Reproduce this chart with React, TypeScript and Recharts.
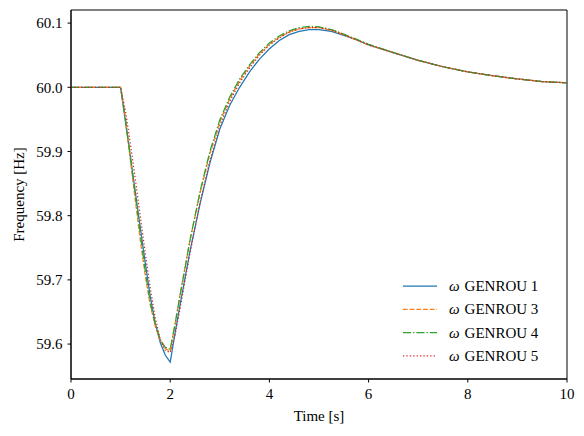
import React from 'react';
import { LineChart, Line, XAxis, YAxis, ReferenceArea, Label } from 'recharts';

// ============================================================================
// --- DATA ---
// ============================================================================

// Simulation time [s]
const time = [
  0, 1, 1.1, 1.2, 1.3, 1.4, 1.5, 1.6, 1.7, 1.8, 1.9, 2.0, 2.1, 2.2, 2.4, 2.6, 2.8, 3.0, 3.2, 3.4,
  3.6, 3.8, 4.0, 4.2, 4.4, 4.6, 4.8, 5.0, 5.25, 5.5, 5.75, 6.0, 6.5, 7.0, 7.5, 8.0, 8.5, 9.0, 9.5, 10,
];

// Rotor speed of each generator, in Hz
const genrou1 = [
  60.0, 60.0, 59.945, 59.89, 59.835, 59.78, 59.725, 59.673, 59.632, 59.602, 59.583, 59.572, 59.618,
  59.662, 59.745, 59.818, 59.882, 59.935, 59.972, 60.0, 60.024, 60.044, 60.06, 60.073, 60.082,
  60.087, 60.09, 60.09, 60.087, 60.081, 60.074, 60.066, 60.054, 60.042, 60.032, 60.024, 60.018,
  60.013, 60.009, 60.007,
];
const genrou3 = [
  60.0, 60.0, 59.948, 59.885, 59.822, 59.76, 59.705, 59.66, 59.628, 59.606, 59.593, 59.589, 59.632,
  59.678, 59.762, 59.835, 59.897, 59.946, 59.982, 60.01, 60.033, 60.052, 60.067, 60.078, 60.086,
  60.091, 60.093, 60.093, 60.089, 60.082, 60.074, 60.066, 60.054, 60.042, 60.032, 60.024, 60.018,
  60.013, 60.009, 60.007,
];
const genrou4 = [
  60.0, 60.0, 59.95, 59.89, 59.83, 59.77, 59.712, 59.664, 59.63, 59.607, 59.595, 59.592, 59.632,
  59.676, 59.762, 59.837, 59.9, 59.949, 59.985, 60.013, 60.035, 60.054, 60.069, 60.08, 60.088,
  60.093, 60.095, 60.094, 60.09, 60.083, 60.075, 60.067, 60.054, 60.042, 60.032, 60.024, 60.018,
  60.013, 60.009, 60.007,
];
const genrou5 = [
  60.0, 60.0, 59.962, 59.91, 59.855, 59.797, 59.74, 59.686, 59.64, 59.607, 59.59, 59.587, 59.615,
  59.656, 59.742, 59.82, 59.886, 59.94, 59.978, 60.007, 60.03, 60.05, 60.066, 60.077, 60.086,
  60.091, 60.093, 60.093, 60.089, 60.082, 60.074, 60.066, 60.054, 60.042, 60.032, 60.024, 60.018,
  60.013, 60.009, 60.007,
];

const xTicks = [0, 2, 4, 6, 8, 10];
const yTicks = [59.6, 59.7, 59.8, 59.9, 60.0, 60.1];

// ============================================================================
// --- STYLE ---
// ============================================================================

const FONT = 'serif';
const Y_MIN = 59.5456;
const Y_MAX = 60.1204;

const series = [
  { key: 'g1', name: 'GENROU 1', values: genrou1, color: '#1f77b4', dash: undefined },
  { key: 'g3', name: 'GENROU 3', values: genrou3, color: '#ff7f0e', dash: '4.7 2' },
  { key: 'g4', name: 'GENROU 4', values: genrou4, color: '#2ca02c', dash: '8.1 2 1.3 2' },
  { key: 'g5', name: 'GENROU 5', values: genrou5, color: '#d62728', dash: '1.3 2.1' },
];

const rows = time.map((t, i) => {
  const row: Record<string, number> = { t };
  series.forEach((s) => {
    row[s.key] = s.values[i];
  });
  return row;
});

const tickStyle = { fontFamily: FONT, fontSize: 15, fill: '#000' };
const textCss = { fontFamily: FONT, fontSize: 15 };

// ============================================================================
// --- LEGEND ---
// ============================================================================

const LegendBox: React.FC = () => (
  <svg
    width={170}
    height={100}
    style={{ position: 'absolute', left: 395, top: 272 }}
  >
    {series.map((s, i) => {
      const y = 14 + i * 23.3;
      return (
        <g key={s.key}>
          <line
            x1={8}
            x2={42}
            y1={y}
            y2={y}
            stroke={s.color}
            strokeWidth={1.25}
            strokeDasharray={s.dash}
          />
          <text x={54} y={y + 5} style={textCss} fill="#000">
            <tspan fontStyle="italic">ω</tspan>
            <tspan dx={5}>{s.name}</tspan>
          </text>
        </g>
      );
    })}
  </svg>
);

// ============================================================================
// --- MAIN COMPONENT ---
// ============================================================================

const App: React.FC = () => (
  <div style={{ position: 'absolute', left: 0, top: 0, width: 584, height: 436, background: '#fff' }}>
    <LineChart width={584} height={436} data={rows} margin={{ top: 10, right: 17, bottom: 0, left: 0 }}>
      <XAxis
        dataKey="t"
        type="number"
        domain={[0, 10]}
        ticks={xTicks}
        height={57}
        tick={tickStyle}
        tickSize={3.5}
        tickMargin={6}
        stroke="#000"
        allowDataOverflow
      >
        <Label
          content={({ viewBox }: any) => (
            <text
              x={viewBox.x + viewBox.width / 2}
              y={421}
              textAnchor="middle"
              style={textCss}
              fill="#000"
            >
              Time [s]
            </text>
          )}
        />
      </XAxis>
      <YAxis
        type="number"
        domain={[Y_MIN, Y_MAX]}
        ticks={yTicks}
        width={71}
        tick={tickStyle}
        tickSize={3.5}
        tickMargin={5}
        tickFormatter={(v: number) => v.toFixed(1)}
        stroke="#000"
        allowDataOverflow
      >
        <Label
          content={({ viewBox }: any) => {
            const cx = 19;
            const cy = viewBox.y + viewBox.height / 2;
            return (
              <text
                x={cx}
                y={cy}
                transform={`rotate(-90 ${cx} ${cy})`}
                textAnchor="middle"
                dominantBaseline="central"
                style={textCss}
                fill="#000"
              >
                Frequency [Hz]
              </text>
            );
          }}
        />
      </YAxis>
      <ReferenceArea x1={0} x2={10} y1={Y_MIN} y2={Y_MAX} fill="none" stroke="#000" strokeWidth={1} />
      {series.map((s) => (
        <Line
          key={s.key}
          dataKey={s.key}
          name={s.name}
          type="linear"
          stroke={s.color}
          strokeWidth={1.25}
          strokeDasharray={s.dash}
          dot={false}
          activeDot={false}
          isAnimationActive={false}
        />
      ))}
    </LineChart>
    <LegendBox />
  </div>
);

export default App;
